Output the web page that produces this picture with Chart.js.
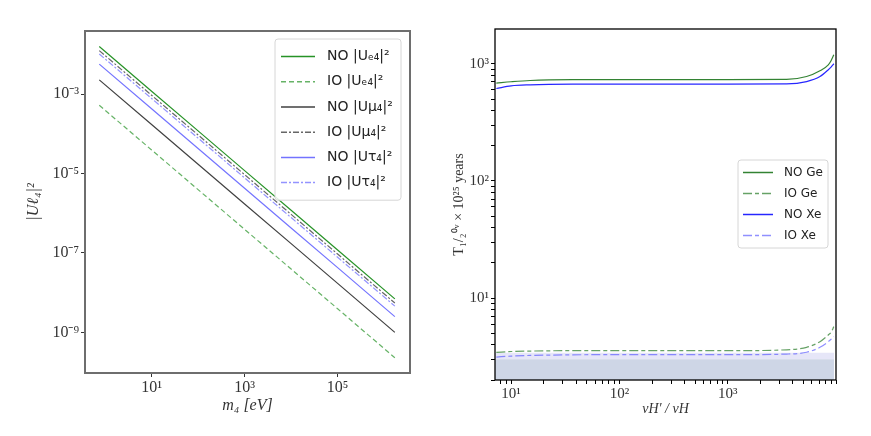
<!DOCTYPE html>
<html>
<head>
<meta charset="utf-8">
<script src="https://cdn.jsdelivr.net/npm/chart.js@4.4.1/dist/chart.umd.min.js"></script>
<style>
body { margin: 0; background: #fff; }
#left { position: absolute; left: 0; top: 0; width: 435px; height: 436px; }
#right { position: absolute; left: 440px; top: 0; width: 431px; height: 436px; }
</style>
</head>
<body>
<div id="left"><canvas id="mixingChart"></canvas></div>
<div id="right"><canvas id="halfLifeChart"></canvas></div>
<script>
// ---- left panel: mixing vs sterile mass ----
var massEV = [0.75, 10, 100, 1000, 10000, 100000, 1700000];
var noUe4 = [0.0159, 1.19e-3, 1.19e-4, 1.19e-5, 1.19e-6, 1.19e-7, 7.0e-9];
var ioUe4 = [5.25e-4, 3.94e-5, 3.94e-6, 3.94e-7, 3.94e-8, 3.94e-9, 2.3e-10];
var noUmu4 = [2.29e-3, 1.72e-4, 1.72e-5, 1.72e-6, 1.72e-7, 1.72e-8, 1.0e-9];
var ioUmu4 = [0.0125, 9.4e-4, 9.4e-5, 9.4e-6, 9.4e-7, 9.4e-8, 5.5e-9];
var noUtau4 = [5.7e-3, 4.28e-4, 4.28e-5, 4.28e-6, 4.28e-7, 4.28e-8, 2.5e-9];
var ioUtau4 = [0.0103, 7.8e-4, 7.8e-5, 7.8e-6, 7.8e-7, 7.8e-8, 4.6e-9];
var massTicks = [10, 1000, 100000];
var massTickLabels = ['10¹', '10³', '10⁵'];
var mixTicks = [1e-9, 1e-7, 1e-5, 1e-3];
var mixTickLabels = ['10⁻⁹', '10⁻⁷', '10⁻⁵', '10⁻³'];

// ---- right panel: half-life vs vev ratio ----
var vevRatio = [7.3, 10, 15, 37, 100, 1000, 3500, 5350, 7110, 8490, 9000, 9550];
var noGe = [684, 702, 720, 732, 733, 733, 735, 778, 871, 980, 1062, 1194];
var noXe = [615, 648, 661, 670, 671, 671, 673, 705, 778, 889, 937, 1000];
var ioGe = [3.44, 3.50, 3.53, 3.56, 3.56, 3.56, 3.62, 3.80, 4.25, 4.85, 5.1, 5.71];
var ioXe = [3.14, 3.20, 3.24, 3.28, 3.29, 3.29, 3.33, 3.45, 3.80, 4.25, 4.45, 4.69];
var bandX = [7.1, 9600];
var geLimit = [3.0, 3.0];
var xeLimit = [3.42, 3.42];
var vevTicks = [10, 100, 1000];
var vevTickLabels = ['10¹', '10²', '10³'];
var lifeTicks = [10, 100, 1000];
var lifeTickLabels = ['10¹', '10²', '10³'];

function pts(xs, ys) {
    return xs.map(function (x, i) { return { x: x, y: ys[i] }; });
}

// log axis ticks at 1..9 x 10^n, labels only where listed
function withMinors(lo, hi) {
    var out = [];
    for (var d = Math.floor(Math.log10(lo)); d <= Math.ceil(Math.log10(hi)); d++) {
        for (var k = 1; k < 10; k++) {
            var v = k * Math.pow(10, d);
            if (v >= lo && v <= hi) out.push({ value: v });
        }
    }
    return out;
}

function labelFor(values, labels) {
    return function (v) {
        var i = values.indexOf(v);
        return i < 0 ? '' : labels[i];
    };
}

var framePlugin = {
    id: 'frame',
    afterDatasetsDraw: function (chart, args, o) {
        var a = chart.chartArea, c = chart.ctx;
        c.save();
        c.strokeStyle = o.color;
        c.lineWidth = o.width;
        c.strokeRect(a.left, a.top, a.right - a.left, a.bottom - a.top);
        c.restore();
    }
};

var boxLegend = {
    id: 'boxLegend',
    afterDraw: function (chart, args, o) {
        var ctx = chart.ctx, a = chart.chartArea;
        var items = chart.data.datasets.filter(function (d) { return d.label; });
        var x = a.right - o.right - o.width, y = a.top + o.top;
        var h = o.pad * 2 + items.length * o.rowHeight;
        ctx.save();
        ctx.beginPath();
        ctx.roundRect(x, y, o.width, h, 3);
        ctx.fillStyle = 'rgba(255,255,255,0.85)';
        ctx.fill();
        ctx.strokeStyle = '#d6d6d6';
        ctx.lineWidth = 1;
        ctx.stroke();
        ctx.font = o.font;
        ctx.textBaseline = 'middle';
        items.forEach(function (d, i) {
            var yy = y + o.pad + o.rowHeight * (i + 0.5);
            ctx.setLineDash(d.borderDash || []);
            ctx.strokeStyle = d.borderColor;
            ctx.lineWidth = o.lineWidth;
            ctx.beginPath();
            ctx.moveTo(x + o.lineX, yy);
            ctx.lineTo(x + o.lineX + o.lineLen, yy);
            ctx.stroke();
            ctx.setLineDash([]);
            ctx.fillStyle = '#222';
            ctx.fillText(d.label, x + o.textX, yy);
        });
        ctx.restore();
    }
};

var serif = 'Liberation Serif';

var ctx = document.getElementById('mixingChart').getContext('2d');
var mixingChart = new Chart(ctx, {
    type: 'line',
    data: {
        datasets: [
            { label: 'NO |Uₑ₄|²', data: pts(massEV, noUe4), borderColor: 'rgba(0,128,0,0.85)', borderWidth: 1.2 },
            { label: 'IO |Uₑ₄|²', data: pts(massEV, ioUe4), borderColor: 'rgba(0,128,0,0.6)', borderWidth: 1.2, borderDash: [5, 3] },
            { label: 'NO |Uμ₄|²', data: pts(massEV, noUmu4), borderColor: 'rgba(0,0,0,0.75)', borderWidth: 1.2 },
            { label: 'IO |Uμ₄|²', data: pts(massEV, ioUmu4), borderColor: 'rgba(0,0,0,0.6)', borderWidth: 1.2, borderDash: [6, 2, 2, 2] },
            { label: 'NO |Uτ₄|²', data: pts(massEV, noUtau4), borderColor: 'rgba(0,0,255,0.55)', borderWidth: 1.2 },
            { label: 'IO |Uτ₄|²', data: pts(massEV, ioUtau4), borderColor: 'rgba(40,40,255,0.5)', borderWidth: 1.2, borderDash: [6, 2, 2, 2] }
        ]
    },
    options: {
        responsive: true,
        maintainAspectRatio: false,
        animation: false,
        elements: { point: { radius: 0 }, line: { tension: 0 } },
        layout: { padding: { left: 0, top: 31, right: 25, bottom: 0 } },
        plugins: {
            legend: { display: false },
            tooltip: { enabled: false },
            frame: { color: '#6e6e6e', width: 2 },
            boxLegend: { right: 9, top: 8, width: 126, pad: 5, rowHeight: 25.2, lineX: 6, lineLen: 34, textX: 52, lineWidth: 1.5, font: '14px "DejaVu Sans"' }
        },
        scales: {
            x: {
                type: 'logarithmic',
                min: 0.37,
                max: 3.6e6,
                afterFit: function (s) { s.height = 63; },
                afterBuildTicks: function (s) { s.ticks = massTicks.map(function (v) { return { value: v }; }); },
                ticks: { callback: labelFor(massTicks, massTickLabels), autoSkip: false, maxRotation: 0, padding: 1, color: '#333', font: { family: serif, size: 16 } },
                grid: { drawOnChartArea: false, tickLength: 4, tickColor: '#333' },
                border: { display: false },
                title: { display: true, text: 'm₄ [eV]', color: '#333', font: { family: serif, size: 16, style: 'italic' }, padding: { bottom: 21 } }
            },
            y: {
                type: 'logarithmic',
                min: 9.5e-11,
                max: 0.039,
                afterFit: function (s) { s.width = 85; },
                afterBuildTicks: function (s) { s.ticks = mixTicks.map(function (v) { return { value: v }; }); },
                ticks: { callback: labelFor(mixTicks, mixTickLabels), autoSkip: false, padding: 2, color: '#333', font: { family: serif, size: 16 } },
                grid: { drawOnChartArea: false, tickLength: 4, tickColor: '#333' },
                border: { display: false },
                title: { display: true, text: '|Uℓ₄|²', color: '#333', font: { family: serif, size: 16, style: 'italic' }, padding: { top: 24 } }
            }
        }
    },
    plugins: [framePlugin, boxLegend]
});

var ctx2 = document.getElementById('halfLifeChart').getContext('2d');
var halfLifeChart = new Chart(ctx2, {
    type: 'line',
    data: {
        datasets: [
            { label: 'NO Ge', data: pts(vevRatio, noGe), borderColor: 'rgba(0,100,0,0.8)', borderWidth: 1.2 },
            { label: 'IO Ge', data: pts(vevRatio, ioGe), borderColor: 'rgba(0,100,0,0.6)', borderWidth: 1.2, borderDash: [9, 3, 4, 3] },
            { label: 'NO Xe', data: pts(vevRatio, noXe), borderColor: 'rgba(0,0,255,0.85)', borderWidth: 1.2 },
            { label: 'IO Xe', data: pts(vevRatio, ioXe), borderColor: 'rgba(70,70,255,0.6)', borderWidth: 1.2, borderDash: [9, 3, 4, 3] },
            { data: pts(bandX, geLimit), borderWidth: 0, backgroundColor: '#ced6e6', fill: 'start', order: 10 },
            { data: pts(bandX, xeLimit), borderWidth: 0, backgroundColor: '#e6e6f8', fill: { value: 3.0 }, order: 11 }
        ]
    },
    options: {
        responsive: true,
        maintainAspectRatio: false,
        animation: false,
        elements: { point: { radius: 0 }, line: { tension: 0, cubicInterpolationMode: 'monotone' } },
        layout: { padding: { left: 0, top: 29, right: 35, bottom: 0 } },
        plugins: {
            legend: { display: false },
            tooltip: { enabled: false },
            frame: { color: '#000', width: 1.3 },
            boxLegend: { right: 8, top: 131, width: 90, pad: 2, rowHeight: 21, lineX: 5, lineLen: 30, textX: 46, lineWidth: 1.5, font: '12px "DejaVu Sans"' }
        },
        scales: {
            x: {
                type: 'logarithmic',
                min: 7.1,
                max: 10000,
                afterFit: function (s) { s.height = 56; },
                afterBuildTicks: function (s) { s.ticks = withMinors(7.1, 10000); },
                ticks: { callback: labelFor(vevTicks, vevTickLabels), autoSkip: false, maxRotation: 0, padding: 1, color: '#333', font: { family: serif, size: 15 } },
                grid: { drawOnChartArea: false, tickLength: 4, tickColor: '#000' },
                border: { display: false },
                title: { display: true, text: 'vH′ / vH', color: '#333', font: { family: serif, size: 14, style: 'italic' }, padding: { bottom: 18 } }
            },
            y: {
                type: 'logarithmic',
                min: 2.0,
                max: 1980,
                afterFit: function (s) { s.width = 55; },
                afterBuildTicks: function (s) { s.ticks = withMinors(2.0, 1980); },
                ticks: { callback: labelFor(lifeTicks, lifeTickLabels), autoSkip: false, padding: 2, color: '#333', font: { family: serif, size: 15 } },
                grid: { drawOnChartArea: false, tickLength: 4, tickColor: '#000' },
                border: { display: false },
                title: { display: true, text: 'T₁/₂⁰ᵛ × 10²⁵ years', color: '#333', font: { family: serif, size: 14 }, padding: { top: 11 } }
            }
        }
    },
    plugins: [framePlugin, boxLegend]
});
</script>
</body>
</html>
